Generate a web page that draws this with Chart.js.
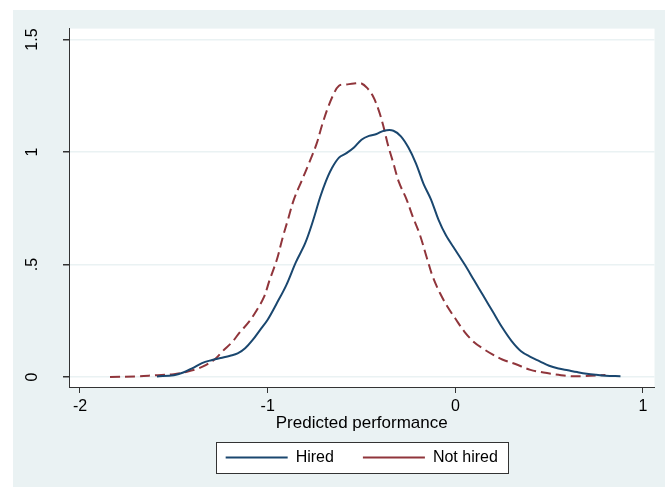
<!DOCTYPE html>
<html>
<head>
<meta charset="utf-8">
<script src="https://cdn.jsdelivr.net/npm/chart.js@4/dist/chart.umd.min.js"></script>
<style>
	html, body { margin: 0; padding: 0; background: #ffffff; }
	canvas { display: block; }
</style>
</head>
<body>
<canvas id="chart" width="665" height="487"></canvas>
<script>
// kernel density of predicted performance
const hiredX = [-1.59, -1.50, -1.45, -1.40, -1.35, -1.30, -1.25, -1.20, -1.16, -1.12,
	-1.08, -1.04, -1.00, -0.95, -0.90, -0.85, -0.80, -0.76, -0.72, -0.69,
	-0.66, -0.62, -0.58, -0.54, -0.50, -0.46, -0.42, -0.38, -0.33, -0.29,
	-0.25, -0.21, -0.17, -0.13, -0.09, -0.05, 0.00, 0.05, 0.10, 0.15,
	0.20, 0.25, 0.30, 0.35, 0.40, 0.45, 0.50, 0.55, 0.60, 0.65,
	0.70, 0.75, 0.80, 0.88];
const hiredY = [0.003, 0.008, 0.020, 0.040, 0.062, 0.075, 0.085, 0.095, 0.105, 0.128,
	0.165, 0.210, 0.255, 0.330, 0.410, 0.510, 0.595, 0.690, 0.800, 0.870,
	0.925, 0.975, 0.995, 1.020, 1.055, 1.072, 1.080, 1.095, 1.095, 1.070,
	1.020, 0.950, 0.860, 0.790, 0.700, 0.630, 0.565, 0.500, 0.430, 0.360,
	0.290, 0.220, 0.160, 0.115, 0.090, 0.070, 0.050, 0.038, 0.030, 0.022,
	0.015, 0.010, 0.006, 0.004];

const notHiredX = [-1.84, -1.70, -1.60, -1.50, -1.43, -1.38, -1.33, -1.28, -1.24, -1.19,
	-1.15, -1.10, -1.06, -1.02, -0.99, -0.95, -0.92, -0.89, -0.86, -0.82,
	-0.78, -0.74, -0.71, -0.68, -0.65, -0.62, -0.58, -0.54, -0.50, -0.47,
	-0.44, -0.41, -0.385, -0.36, -0.33, -0.30, -0.26, -0.23, -0.19, -0.15,
	-0.12, -0.08, -0.04, 0.00, 0.05, 0.10, 0.15, 0.20, 0.25, 0.32,
	0.40, 0.47, 0.55, 0.61, 0.68, 0.80];
const notHiredY = [0.000, 0.003, 0.008, 0.013, 0.024, 0.035, 0.053, 0.080, 0.115, 0.155,
	0.197, 0.245, 0.295, 0.355, 0.430, 0.525, 0.620, 0.705, 0.790, 0.870,
	0.950, 1.035, 1.120, 1.195, 1.255, 1.295, 1.300, 1.305, 1.305, 1.285,
	1.250, 1.190, 1.120, 1.035, 0.950, 0.865, 0.790, 0.720, 0.635, 0.525,
	0.445, 0.370, 0.310, 0.260, 0.200, 0.155, 0.125, 0.100, 0.078, 0.058,
	0.032, 0.020, 0.010, 0.004, 0.004, 0.009];

const seriesLabels = ["Hired", "Not hired"];
const xTickValues = [-2, -1, 0, 1];
const xTickLabels = ["-2", "-1", "0", "1"];
const yTickValues = [0, 0.5, 1, 1.5];
const yTickLabels = ["0", ".5", "1", "1.5"];

const NAVY = "#1a476f";
const MAROON = "#90353b";
const BLUISH = "#eaf2f3";
const AXIS = "#333333";

function toPoints(xs, ys) {
	return xs.map((x, i) => ({x: x, y: ys[i]}));
}

const backdrop = {
	id: "backdrop",
	beforeDraw(chart) {
		const ctx = chart.ctx;
		const a = chart.chartArea;
		ctx.save();
		ctx.fillStyle = "#ffffff";
		ctx.fillRect(0, 0, chart.width, chart.height);
		ctx.fillStyle = BLUISH;
		ctx.fillRect(13, 10, chart.width - 13, chart.height - 10);
		ctx.fillStyle = "#ffffff";
		ctx.fillRect(a.left, a.top, a.right - a.left, a.bottom - a.top);
		// framed legend box
		const boxes = chart.legend.legendHitBoxes;
		if (boxes && boxes.length) {
			const first = boxes[0];
			const last = boxes[boxes.length - 1];
			const cy = first.top + first.height / 2;
			const left = Math.round(first.left - 10) + 0.5;
			const right = Math.round(last.left + last.width + 10) + 0.5;
			const top = Math.round(cy - 16) + 0.5;
			const bottom = Math.round(cy + 15) + 0.5;
			ctx.fillRect(left, top, right - left, bottom - top);
			ctx.strokeStyle = AXIS;
			ctx.lineWidth = 1;
			ctx.strokeRect(left, top, right - left, bottom - top);
		}
		ctx.restore();
	}
};

Chart.defaults.font.family = "'Liberation Sans', Arial, sans-serif";
Chart.defaults.font.size = 16;
Chart.defaults.color = "#000000";

new Chart(document.getElementById("chart"), {
	type: "line",
	data: {
		datasets: [{
			label: seriesLabels[0],
			data: toPoints(hiredX, hiredY),
			borderColor: NAVY,
			backgroundColor: NAVY,
			borderWidth: 2,
			pointRadius: 0,
			tension: 0.35,
			fill: false
		}, {
			label: seriesLabels[1],
			data: toPoints(notHiredX, notHiredY),
			borderColor: MAROON,
			backgroundColor: MAROON,
			borderWidth: 2,
			borderDash: [10, 5],
			pointRadius: 0,
			tension: 0.35,
			fill: false
		}]
	},
	options: {
		responsive: false,
		animation: false,
		devicePixelRatio: 1,
		layout: {padding: {left: 0, top: 27, right: 10.5, bottom: 11.5}},
		plugins: {
			tooltip: {enabled: false},
			legend: {
				position: "bottom",
				fullSize: false,
				labels: {
					usePointStyle: true,
					pointStyleWidth: 62,
					pointStyle: "line",
					padding: 29,
					color: "#000000",
					font: {size: 16}
				}
			}
		},
		scales: {
			x: {
				type: "linear",
				min: -2.0586,
				max: 1.0613,
				afterBuildTicks: s => { s.ticks = xTickValues.map(v => ({value: v})); },
				afterFit: s => { s.height = 33.5; },
				border: {color: AXIS, width: 1},
				grid: {drawOnChartArea: false, tickLength: 6, tickColor: AXIS},
				ticks: {
					padding: 4,
					maxRotation: 0,
					callback: (v, i) => xTickLabels[i]
				},
				title: {
					display: true,
					text: "Predicted performance",
					font: {size: 17},
					padding: {top: 0, bottom: -12.7}
				}
			},
			y: {
				min: -0.0442,
				max: 1.5487,
				afterBuildTicks: s => { s.ticks = yTickValues.map(v => ({value: v})); },
				afterFit: s => { s.width = 69; },
				border: {color: AXIS, width: 1},
				grid: {color: BLUISH, lineWidth: 1.5, tickLength: 6, tickColor: AXIS},
				ticks: {
					minRotation: 90,
					maxRotation: 90,
					crossAlign: "center",
					padding: 19,
					callback: (v, i) => yTickLabels[i]
				}
			}
		}
	},
	plugins: [backdrop]
});
</script>
</body>
</html>
